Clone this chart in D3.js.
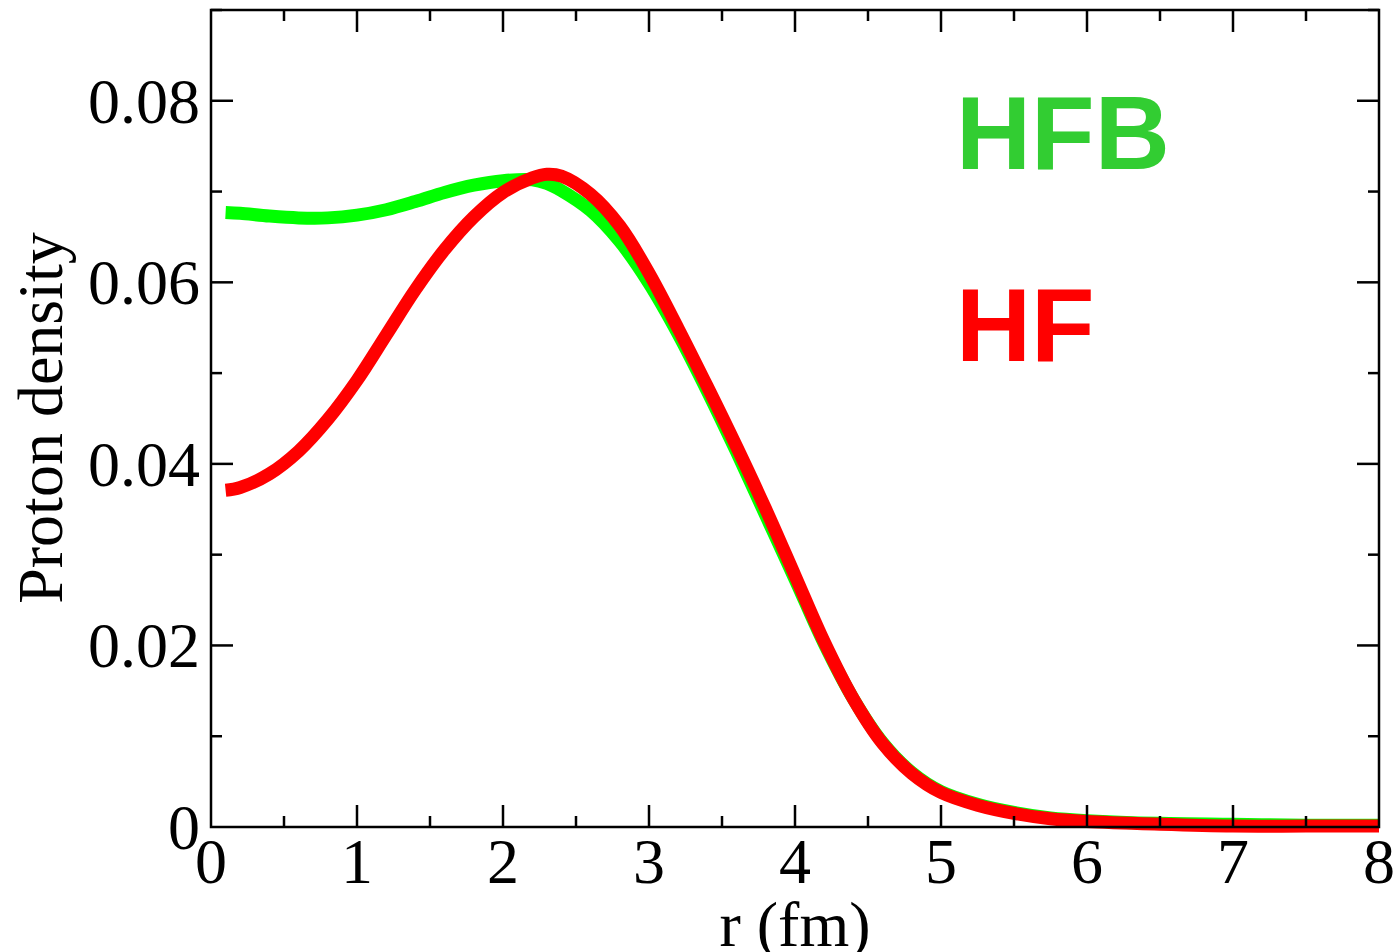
<!DOCTYPE html>
<head>
  <style>
    body { margin: 0; background: #fff; }
    .tick-label { font-family: "Liberation Serif", "Times New Roman", serif; font-size: 64px; fill: #000; }
    .axis-title { font-family: "Liberation Serif", "Times New Roman", serif; font-size: 64px; fill: #000; }
    .tag { font-family: "Liberation Sans", Arial, sans-serif; font-weight: bold; font-size: 104px; }
  </style>
  <script src="https://d3js.org/d3.v7.min.js"></script>
  <title></title>
</head>
<body>
<div class="home"></div>
<script>
    // radius grid (fm)
    const radius = [0.1, 0.2, 0.4, 0.6, 0.8, 1.0, 1.2, 1.4, 1.6, 1.8, 2.0, 2.2, 2.3, 2.4, 2.6, 2.8, 3.0,
                    3.2, 3.4, 3.6, 3.8, 4.0, 4.2, 4.4, 4.6, 4.8, 5.0, 5.25, 5.5, 5.75, 6.0, 6.5, 7.0, 7.5, 8.0];
    // HFB proton density
    const hfbDensity = [0.0677, 0.0676, 0.0673, 0.0671, 0.0671, 0.0674, 0.0680, 0.0689, 0.0699, 0.0707, 0.0712, 0.0713, 0.0709, 0.0701,
                        0.0679, 0.0645, 0.0599, 0.0543, 0.0480, 0.0413, 0.0343, 0.0273, 0.0202, 0.0141, 0.0093, 0.0060,
                        0.0039, 0.0025, 0.0016, 0.0010, 0.0007, 0.0004, 0.0003, 0.0002, 0.0002];
    // HF proton density
    const hfDensity = [0.0371, 0.0374, 0.0389, 0.0414, 0.0449, 0.0492, 0.0542, 0.0592, 0.0636, 0.0672, 0.0699, 0.0715, 0.0719, 0.0717,
                       0.0697, 0.0662, 0.0610, 0.0549, 0.0485, 0.0419, 0.0350, 0.0277, 0.0204, 0.0141, 0.0092, 0.0059,
                       0.0038, 0.0024, 0.0015, 0.0009, 0.0006, 0.0003, 0.0001, 0.0001, 0.0001];

    const xMajor = [0, 1, 2, 3, 4, 5, 6, 7, 8];
    const xMinor = [0.5, 1.5, 2.5, 3.5, 4.5, 5.5, 6.5, 7.5];
    const yMajor = [0, 0.02, 0.04, 0.06, 0.08];
    const yMinor = [0.01, 0.03, 0.05, 0.07, 0.09];
    const yLabels = ["0", "0.02", "0.04", "0.06", "0.08"];

    const width = 1395, height = 952;
    const plotL = 211, plotR = 1379, plotT = 10, plotB = 827;

    const svg = d3.select(".home").append("svg")
        .attr("width", width)
        .attr("height", height);

    const x = d3.scaleLinear().domain([0, 8]).range([plotL, plotR]);
    const y = d3.scaleLinear().domain([0, 0.09]).range([plotB, plotT]);

    const line = d3.line()
        .x(d => x(d[0]))
        .y(d => y(d[1]))
        .curve(d3.curveCatmullRom.alpha(0.5));

    const curves = svg.append("g");
    curves.append("path")
        .datum(d3.zip(radius, hfbDensity))
        .attr("d", line)
        .attr("fill", "none")
        .attr("stroke", "#00ff00")
        .attr("stroke-width", 13);
    curves.append("path")
        .datum(d3.zip(radius, hfDensity))
        .attr("d", line)
        .attr("fill", "none")
        .attr("stroke", "#ff0000")
        .attr("stroke-width", 13);

    // ticks on all four sides, pointing inward
    const tk = svg.append("g").attr("stroke", "#000").attr("stroke-width", 2.5);
    function xTicks(vals, len) {
        vals.forEach(v => {
            tk.append("line").attr("x1", x(v)).attr("x2", x(v)).attr("y1", plotB).attr("y2", plotB - len);
            tk.append("line").attr("x1", x(v)).attr("x2", x(v)).attr("y1", plotT).attr("y2", plotT + len);
        });
    }
    function yTicks(vals, len) {
        vals.forEach(v => {
            tk.append("line").attr("y1", y(v)).attr("y2", y(v)).attr("x1", plotL).attr("x2", plotL + len);
            tk.append("line").attr("y1", y(v)).attr("y2", y(v)).attr("x1", plotR).attr("x2", plotR - len);
        });
    }
    xTicks(xMajor.slice(1, -1), 22);
    xTicks(xMinor, 11);
    yTicks(yMajor.slice(1), 22);
    yTicks(yMinor, 11);

    svg.append("rect")
        .attr("x", plotL).attr("y", plotT)
        .attr("width", plotR - plotL).attr("height", plotB - plotT)
        .attr("fill", "none").attr("stroke", "#000").attr("stroke-width", 2.5);

    svg.append("g").selectAll("text")
        .data(xMajor).enter().append("text")
        .attr("class", "tick-label")
        .attr("x", d => x(d))
        .attr("y", 883)
        .attr("text-anchor", "middle")
        .text(d => d);

    svg.append("g").selectAll("text")
        .data(yMajor).enter().append("text")
        .attr("class", "tick-label")
        .attr("x", 200)
        .attr("y", d => y(d) + 22)
        .attr("text-anchor", "end")
        .text((d, i) => yLabels[i]);

    svg.append("text")
        .attr("class", "axis-title")
        .attr("x", 795).attr("y", 946)
        .attr("text-anchor", "middle")
        .text("r (fm)");

    svg.append("text")
        .attr("class", "axis-title")
        .attr("transform", "translate(62,418) rotate(-90)")
        .attr("text-anchor", "middle")
        .text("Proton density");

    svg.append("text").attr("class", "tag")
        .attr("x", 956).attr("y", 169)
        .attr("fill", "#32cd32")
        .text("HFB");
    svg.append("text").attr("class", "tag")
        .attr("x", 956).attr("y", 361)
        .attr("fill", "#ff0000")
        .text("HF");
</script>
</body>
